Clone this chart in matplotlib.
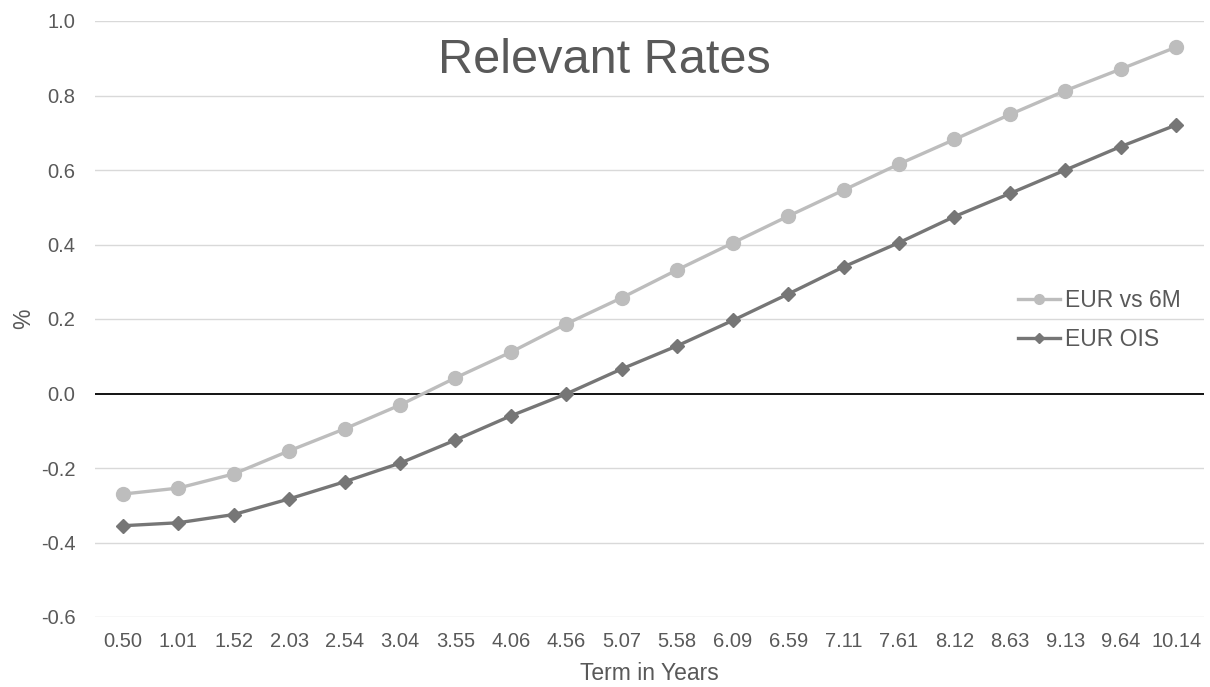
import matplotlib
matplotlib.use("Agg")
import matplotlib.pyplot as plt
from matplotlib.lines import Line2D

plt.rcParams['font.family'] = ['Liberation Sans', 'DejaVu Sans']

terms = ["0.50", "1.01", "1.52", "2.03", "2.54", "3.04", "3.55", "4.06", "4.56", "5.07",
         "5.58", "6.09", "6.59", "7.11", "7.61", "8.12", "8.63", "9.13", "9.64", "10.14"]
eur_6m = [-0.270, -0.254, -0.216, -0.154, -0.095, -0.031, 0.042, 0.111, 0.187, 0.257,
          0.332, 0.404, 0.476, 0.546, 0.616, 0.682, 0.749, 0.813, 0.871, 0.930]
eur_ois = [-0.355, -0.347, -0.325, -0.283, -0.237, -0.187, -0.125, -0.060, -0.001, 0.066,
           0.128, 0.196, 0.267, 0.340, 0.405, 0.475, 0.537, 0.600, 0.663, 0.721]
yticks = [-0.6, -0.4, -0.2, 0.0, 0.2, 0.4, 0.6, 0.8, 1.0]

light = "#BDBDBD"
dark = "#767676"
text_col = "#595959"

W, H = 1210, 687
fig = plt.figure(figsize=(W / 100, H / 100), dpi=100)
ax = fig.add_axes([95 / W, 70 / H, (1204 - 95) / W, (617 - 21) / H])

x = list(range(len(terms)))
ax.plot(x, eur_6m, color=light, lw=2.4, marker='o', ms=10, mfc=light, mec=light,
        label="EUR vs 6M", zorder=3)
ax.plot(x, eur_ois, color=dark, lw=2.4, marker='D', ms=7.5, mfc=dark, mec=dark,
        label="EUR OIS", zorder=4)

ax.set_xlim(-0.5, len(terms) - 0.5)
ax.set_ylim(-0.6, 1.0)
ax.set_yticks(yticks)
ax.set_yticklabels([f"{v:.1f}" for v in yticks])
ax.set_xticks(x)
ax.set_xticklabels(terms)
for v in yticks:
    if v == 0.0:
        ax.axhline(v, color="black", lw=1.3, zorder=2)
    else:
        ax.axhline(v, color="#D9D9D9", lw=1.0, zorder=1)

for s in ax.spines.values():
    s.set_visible(False)
ax.tick_params(axis='both', length=0, labelsize=14.5, labelcolor=text_col)
ax.tick_params(axis='x', pad=11)
ax.tick_params(axis='y', pad=14)

ax.set_xlabel("Term in Years", fontsize=16.5, color=text_col, labelpad=8)
ax.set_ylabel("%", fontsize=16.5, color=text_col, labelpad=4)

fig.text(604.5 / W, 1 - 73 / H, "Relevant Rates", ha='center', va='baseline',
         fontsize=35, color=text_col)

handles = [Line2D([], [], color=light, lw=2.4, marker='o', ms=7, mfc=light, mec=light),
           Line2D([], [], color=dark, lw=2.4, marker='D', ms=5.5, mfc=dark, mec=dark)]
leg = ax.legend(handles, ["EUR vs 6M", "EUR OIS"], loc='center left',
                bbox_to_anchor=(1018 / W, 1 - 320 / H), bbox_transform=fig.transFigure,
                frameon=False, fontsize=16.5, handlelength=1.85, handletextpad=0.22,
                labelspacing=0.7, borderpad=0, borderaxespad=0)
for t in leg.get_texts():
    t.set_color(text_col)

fig.savefig("out.png", dpi=100)
